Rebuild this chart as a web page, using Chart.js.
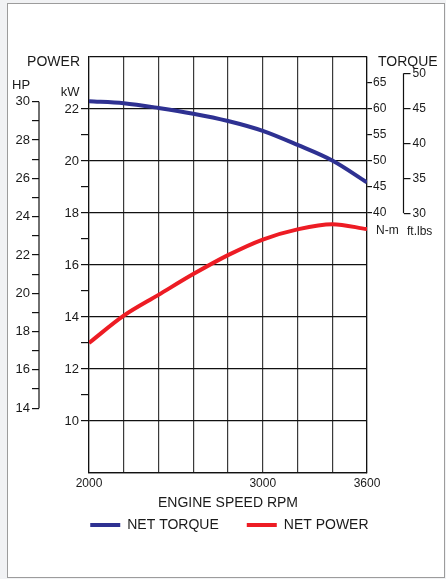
<!DOCTYPE html>
<html><head><meta charset="utf-8">
<script src="https://cdn.jsdelivr.net/npm/chart.js@4.4.1/dist/chart.umd.min.js"></script>
<style>
html,body{margin:0;padding:0;background:#f1f2f4;width:446px;height:579px;overflow:hidden}
#frame{position:absolute;left:7px;top:3px;width:438px;height:575px;box-sizing:border-box;border:1px solid #9c9c9c;background:#fff}
#c{position:absolute;left:0;top:0}
</style></head><body>
<div id="frame"></div>
<canvas id="c" width="446" height="579"></canvas>
<script>
// ---- data ----
const rpm = [2000, 2200, 2400, 2600, 2800, 3000, 3200, 3400, 3600];
const netTorqueNm = [61.5, 61.1, 60.2, 59.1, 57.7, 55.8, 53.1, 50.1, 45.9];
const netPowerKW = [13.0, 14.05, 14.85, 15.65, 16.38, 16.98, 17.37, 17.57, 17.38];
const xTickLabels = [2000, 3000, 3600];
const kwTicks = [10, 12, 14, 16, 18, 20, 22];
const hpTicks = [14, 16, 18, 20, 22, 24, 26, 28, 30];
const nmTicks = [40, 45, 50, 55, 60, 65];
const ftlbTicks = [30, 35, 40, 45, 50];

const FONT = "'Liberation Sans', Arial, Helvetica, sans-serif";
const TXT = '#1a1a1a';
const LINE = '#111';
Chart.defaults.font.family = FONT;
Chart.defaults.color = TXT;

function withMinors(major) {
  const out = [];
  for (let i = 0; i < major.length; i++) {
    out.push(major[i]);
    if (i < major.length - 1) out.push((major[i] + major[i + 1]) / 2);
  }
  return out;
}
const kwAll = [8, 9].concat(withMinors(kwTicks), [23, 24]);
const hpAll = withMinors(hpTicks);

const decor = {
  id: 'decor',
  afterDraw(chart) {
    const {ctx, chartArea: a, scales: s} = chart;
    ctx.save();
    ctx.strokeStyle = LINE; ctx.lineWidth = 1.2;
    ctx.beginPath();
    ctx.moveTo(s.hp.right, s.hp.getPixelForValue(hpTicks[hpTicks.length - 1]));
    ctx.lineTo(s.hp.right, s.hp.getPixelForValue(hpTicks[0]));
    ctx.moveTo(s.ft.left, s.ft.getPixelForValue(ftlbTicks[ftlbTicks.length - 1]));
    ctx.lineTo(s.ft.left, s.ft.getPixelForValue(ftlbTicks[0]));
    ctx.stroke();
    ctx.fillStyle = TXT; ctx.textBaseline = 'middle';
    ctx.font = '14px ' + FONT;
    ctx.textAlign = 'right'; ctx.fillText('POWER', s.kw.right - 9, a.top + 5.5);
    ctx.textAlign = 'left'; ctx.fillText('TORQUE', a.right + 11, a.top + 5);
    ctx.font = '13px ' + FONT;
    ctx.textAlign = 'left'; ctx.fillText('HP', s.hp.right - 27, s.hp.getPixelForValue(30) - 16);
    ctx.textAlign = 'right'; ctx.fillText('kW', s.kw.right - 9.5, s.kw.getPixelForValue(22) - 17);
    ctx.font = '12px ' + FONT;
    ctx.textAlign = 'left'; ctx.fillText('N-m', a.right + 9, s.nm.getPixelForValue(40) + 18);
    ctx.fillText('ft.lbs', s.ft.left + 3.5, s.ft.getPixelForValue(30) + 18);
    ctx.restore();
  }
};

new Chart(document.getElementById('c'), {
  type: 'line',
  data: {
    datasets: [
      { label: 'NET TORQUE', yAxisID: 'nm', data: rpm.map((r, i) => ({x: r, y: netTorqueNm[i]})),
        borderColor: '#2E3192', backgroundColor: '#2E3192', borderWidth: 4, pointRadius: 0,
        cubicInterpolationMode: 'monotone', fill: false },
      { label: 'NET POWER', yAxisID: 'kw', data: rpm.map((r, i) => ({x: r, y: netPowerKW[i]})),
        borderColor: '#ED1C24', backgroundColor: '#ED1C24', borderWidth: 4, pointRadius: 0,
        cubicInterpolationMode: 'monotone', fill: false }
    ]
  },
  options: {
    responsive: false, animation: false, devicePixelRatio: 1,
    layout: { padding: { top: 57, left: 12.8, right: 0, bottom: 37 } },
    plugins: {
      tooltip: { enabled: false },
      legend: {
        position: 'bottom', fullSize: true,
        labels: {
          boxWidth: 30, boxHeight: 4, padding: 28, font: { size: 14 }, color: TXT,
          generateLabels: (chart) => chart.data.datasets.map((d, i) => ({
            text: d.label, fillStyle: d.borderColor, strokeStyle: d.borderColor,
            lineWidth: 0, hidden: false, datasetIndex: i, fontColor: TXT }))
        }
      }
    },
    scales: {
      x: {
        type: 'linear', position: 'bottom', min: 2000, max: 3600,
        afterBuildTicks: (sc) => { sc.ticks = rpm.map(v => ({value: v})); },
        ticks: { autoSkip: false, maxRotation: 0, padding: 5, font: { size: 12, lineHeight: 1 }, color: TXT,
          callback: (v) => xTickLabels.includes(v) ? String(v) : '' },
        grid: { color: '#3a3a3a', lineWidth: 1.2, drawTicks: false },
        border: { display: true, color: LINE, width: 1.2 },
        title: { display: true, text: 'ENGINE SPEED RPM', font: { size: 14 }, color: TXT,
          padding: { top: 0, bottom: -21.4 } },
        afterFit: (sc) => { sc.height = 17; }
      },
      kw: {
        type: 'linear', position: 'left', weight: 0, min: 8, max: 24,
        afterBuildTicks: (sc) => { sc.ticks = kwAll.map(v => ({value: v})); },
        ticks: { autoSkip: false, padding: 2, font: { size: 13 }, color: TXT,
          callback: (v) => kwTicks.includes(v) ? String(v) : '' },
        grid: {
          color: (c) => (c.tick && c.tick.value % 2 === 0) ? LINE : 'rgba(0,0,0,0)',
          tickColor: (c) => (c.tick && c.tick.value >= kwTicks[0] && c.tick.value <= kwTicks[kwTicks.length - 1]) ? LINE : 'rgba(0,0,0,0)',
          lineWidth: 1.2, tickLength: 8, drawTicks: true
        },
        border: { display: true, color: LINE, width: 1.2 },
        afterFit: (sc) => { sc.width = 50; }
      },
      hp: {
        type: 'linear', position: 'left', weight: 1, min: 10.62, max: 32.33,
        afterBuildTicks: (sc) => { sc.ticks = hpAll.map(v => ({value: v})); },
        ticks: { autoSkip: false, padding: 2, font: { size: 13 }, color: TXT,
          callback: (v) => hpTicks.includes(v) ? String(v) : '' },
        grid: { drawOnChartArea: false, tickLength: 7, tickColor: LINE, lineWidth: 1.2 },
        border: { display: false },
        afterFit: (sc) => { sc.width = 26.2; }
      },
      nm: {
        type: 'linear', position: 'right', weight: 0, min: -10, max: 70,
        afterBuildTicks: (sc) => { sc.ticks = nmTicks.map(v => ({value: v})); },
        ticks: { autoSkip: false, padding: 1, font: { size: 12 }, color: TXT },
        grid: { drawOnChartArea: false, tickLength: 5, tickColor: LINE, lineWidth: 1.2 },
        border: { display: true, color: LINE, width: 1.2 },
        afterFit: (sc) => { sc.width = 36.5; }
      },
      ft: {
        type: 'linear', position: 'right', weight: 1, min: -7.1, max: 52.33,
        afterBuildTicks: (sc) => { sc.ticks = ftlbTicks.map(v => ({value: v})); },
        ticks: { autoSkip: false, padding: 2, font: { size: 12 }, color: TXT },
        grid: { drawOnChartArea: false, tickLength: 7, tickColor: LINE, lineWidth: 1.2 },
        border: { display: false },
        afterFit: (sc) => { sc.width = 42.5; }
      }
    }
  },
  plugins: [decor]
});
</script>
</body></html>
